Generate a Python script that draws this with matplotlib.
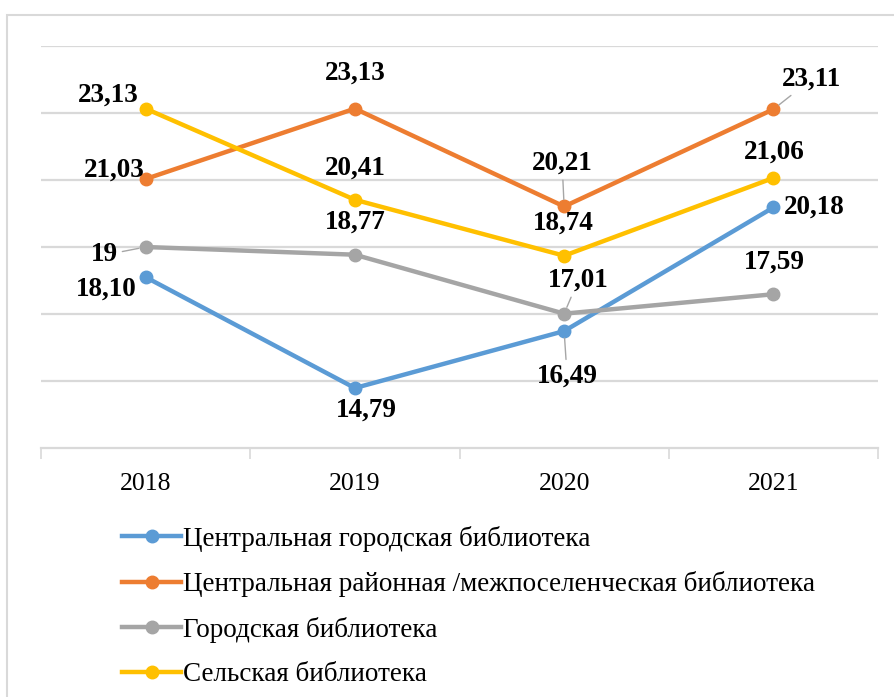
import matplotlib.pyplot as plt
from matplotlib.patches import Rectangle

# data
years = ['2018', '2019', '2020', '2021']
series_names = ['Центральная городская библиотека',
                'Центральная районная /межпоселенческая библиотека',
                'Городская библиотека',
                'Сельская библиотека']
central_city = [18.10, 14.79, 16.49, 20.18]
central_district = [21.03, 23.13, 20.21, 23.11]
city = [19, 18.77, 17.01, 17.59]
rural = [23.13, 20.41, 18.74, 21.06]
labels = [['18,10', '14,79', '16,49', '20,18'],
          ['21,03', '23,13', '20,21', '23,11'],
          ['19', '18,77', '17,01', '17,59'],
          ['23,13', '20,41', '18,74', '21,06']]

colors = ['#5B9BD5', '#ED7D31', '#A5A5A5', '#FFC000']

# label offsets in pixels and whether a leader line is drawn
offsets = [[(-39, -12), (12, -22), (3, -45), (41, 0)],
           [(-31, 9), (0, 35), (-2, 43), (38, 30)],
           [(-41, -8), (0, 33), (14, 33), (1, 32)],
           [(-37, 13), (0, 32), (-1, 33), (1, 26)]]
leaders = [[False, False, True, False],
           [False, False, True, True],
           [True, False, True, False],
           [False, False, False, False]]

plt.rcParams['font.family'] = 'Liberation Serif'

fig = plt.figure(figsize=(8.94, 6.97), dpi=100)
fig.patches.append(Rectangle((7 / 894, -0.1), 1.2, 1 - 15 / 697 + 0.1,
                             transform=fig.transFigure, fill=False,
                             edgecolor='#D9D9D9', lw=1.5))
ax = fig.add_axes([41 / 894, 1 - 448 / 697, 837 / 894, 402 / 697])

x = range(len(years))
all_series = [central_city, central_district, city, rural]
for i, vals in enumerate(all_series):
    ax.plot(x, vals, color=colors[i], lw=3.2, marker='o', markersize=9,
            label=series_names[i], zorder=3)
    for j, v in enumerate(vals):
        arrow = None
        if leaders[i][j]:
            arrow = dict(arrowstyle='-', color='#A6A6A6', lw=1,
                         shrinkA=1, shrinkB=5)
        ax.annotate(labels[i][j], (j, v), xytext=offsets[i][j],
                    textcoords='offset pixels', ha='center', va='center',
                    fontsize=19.5, fontweight='bold', arrowprops=arrow, zorder=4)

ax.set_xlim(-0.5, 3.5)
ax.set_ylim(13, 25)
ax.set_yticks([15, 17, 19, 21, 23, 25])
ax.yaxis.grid(True, color='#D9D9D9', lw=1.6)
ax.set_axisbelow(True)
ax.tick_params(axis='y', left=False, labelleft=False)
for s in ['top', 'right', 'left']:
    ax.spines[s].set_visible(False)
ax.spines['bottom'].set_color('#D9D9D9')
ax.spines['bottom'].set_linewidth(1.6)

ax.set_xticks([-0.5, 0.5, 1.5, 2.5, 3.5])
ax.set_xticklabels([])
ax.tick_params(axis='x', which='major', length=8, color='#D9D9D9', width=1.2)
ax.set_xticks(list(x), minor=True)
ax.set_xticklabels(years, minor=True, fontsize=18.5)
ax.tick_params(axis='x', which='minor', length=0, pad=18)

fig.legend(loc='upper left', bbox_to_anchor=(0.137, 0.2457), frameon=False,
           fontsize=19.5, handlelength=2.15, handletextpad=0.1,
           labelspacing=0.72, borderpad=0, borderaxespad=0)

plt.savefig('out.png', dpi=100)
